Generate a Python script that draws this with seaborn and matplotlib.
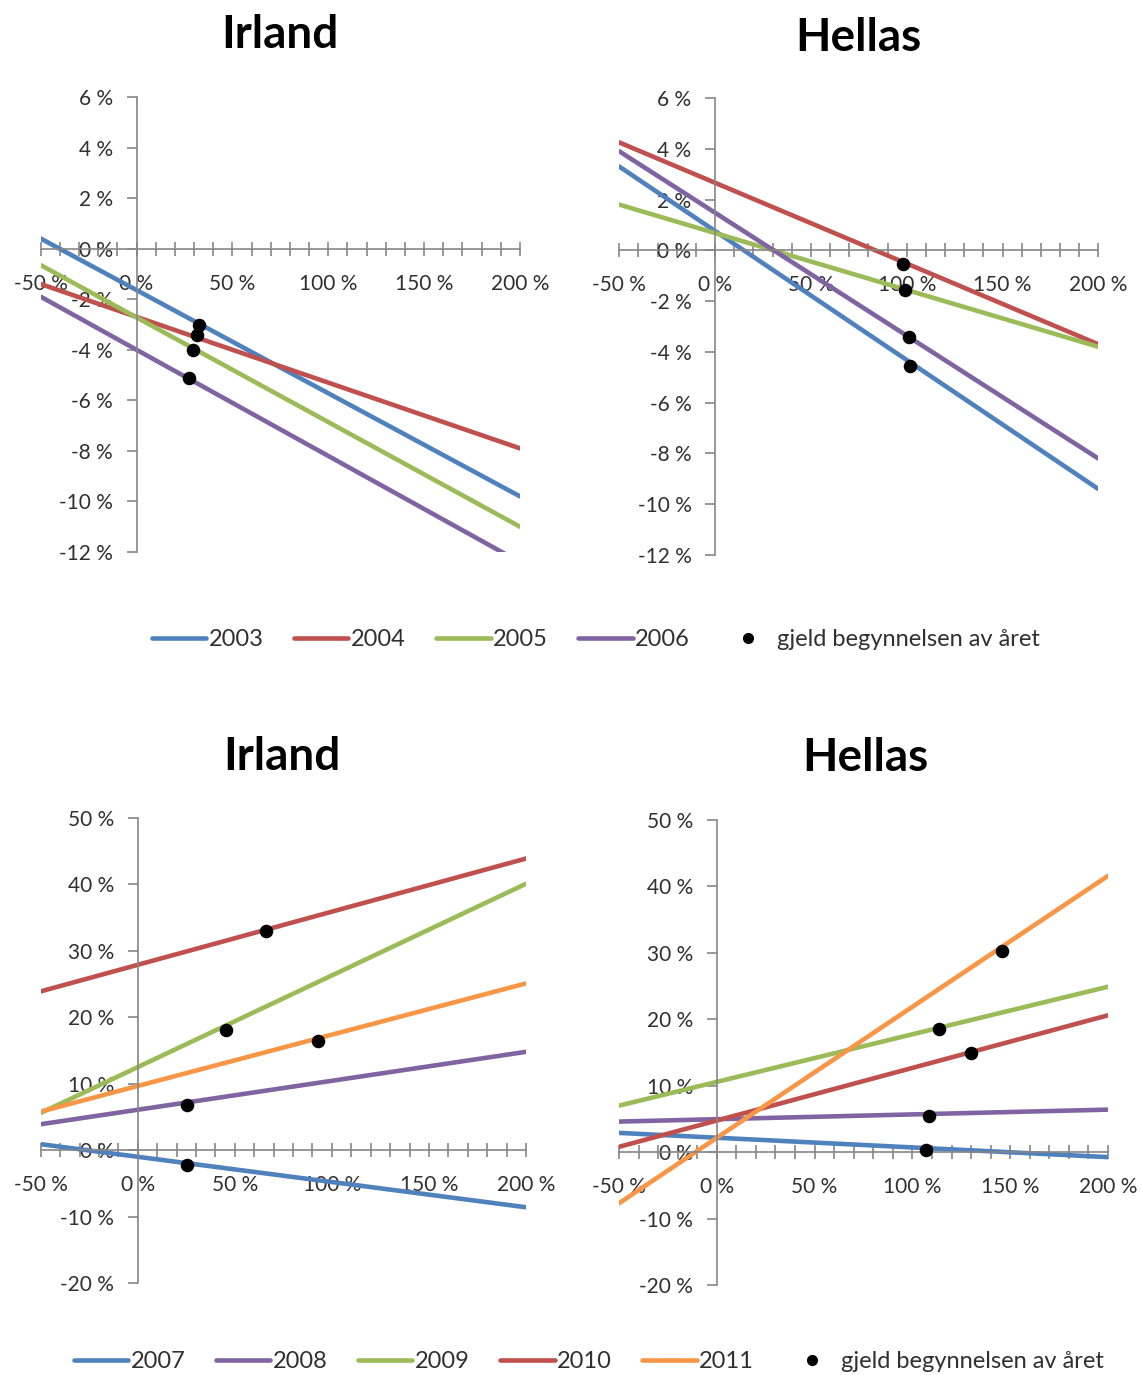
import numpy as np
import pandas as pd
import seaborn as sns
import matplotlib.pyplot as plt
from matplotlib.ticker import MultipleLocator, FuncFormatter
from matplotlib.lines import Line2D

sns.set_style("white")
plt.rcParams['font.family'] = ['Lato', 'DejaVu Sans']

# x positions of the line ends (gjeld, %)
x_ends = [-50, 200]

# top panels: 2003-2006
years_top = ["2003", "2004", "2005", "2006"]
irl_top_start = [0.4, -1.4, -0.65, -1.9]
irl_top_end = [-9.8, -7.9, -11.0, -12.4]
hel_top_start = [3.3, 4.25, 1.8, 3.9]
hel_top_end = [-9.4, -3.7, -3.8, -8.2]
irl_top_dot_x = [32.6, 31.3, 29.4, 27.3]
irl_top_dot_y = [-3.0, -3.4, -4.0, -5.1]
hel_top_dot_x = [98.1, 99.1, 101.0, 101.9]
hel_top_dot_y = [-0.55, -1.55, -3.4, -4.55]

# bottom panels: 2007-2011
years_bot = ["2007", "2008", "2009", "2010", "2011"]
irl_bot_start = [0.9, 3.9, 5.6, 23.9, 5.8]
irl_bot_end = [-8.6, 14.8, 40.1, 43.9, 25.1]
hel_bot_start = [2.9, 4.6, 7.0, 0.8, -7.7]
hel_bot_end = [-0.75, 6.4, 24.9, 20.6, 41.6]
irl_bot_dot_x = [25.5, 25.5, 45.2, 65.9, 92.8]
irl_bot_dot_y = [-2.3, 6.8, 18.1, 33.0, 16.5]
hel_bot_dot_x = [107.2, 108.5, 113.6, 130.2, 146.0]
hel_bot_dot_y = [0.35, 5.5, 18.5, 14.9, 30.3]

col = {"2003": "#4F81BD", "2004": "#C0504D", "2005": "#9BBB59", "2006": "#8064A2",
       "2007": "#4F81BD", "2008": "#8064A2", "2009": "#9BBB59", "2010": "#C0504D",
       "2011": "#F79646"}
dot_label = "gjeld begynnelsen av året"
axis_col = "#868686"
text_col = "#303030"

W, H = 1142, 1375


def lines_df(years, start, end):
    rows = []
    for yr, s, e in zip(years, start, end):
        rows.append({"år": yr, "gjeld": x_ends[0], "vekst": s})
        rows.append({"år": yr, "gjeld": x_ends[1], "vekst": e})
    return pd.DataFrame(rows)


def pct(v, pos):
    return "%d %%" % round(v)


def draw(ax, years, start, end, dx, dy, ylim, ystep):
    df = lines_df(years, start, end)
    sns.lineplot(data=df, x="gjeld", y="vekst", hue="år", palette=col,
                 linewidth=3.3, ax=ax, legend=False, sort=False)
    sns.scatterplot(x=dx, y=dy, color="black", s=95, ax=ax, zorder=5,
                    edgecolor="black", linewidth=0)
    ax.set_xlim(-50, 200)
    ax.set_ylim(*ylim)
    ax.set_xlabel("")
    ax.set_ylabel("")
    ax.spines["top"].set_visible(False)
    ax.spines["right"].set_visible(False)
    ax.spines["left"].set_position(("data", 0))
    ax.spines["bottom"].set_position(("data", 0))
    for s in ["left", "bottom"]:
        ax.spines[s].set_color(axis_col)
        ax.spines[s].set_linewidth(1.2)
    ax.xaxis.set_major_locator(MultipleLocator(50))
    ax.xaxis.set_minor_locator(MultipleLocator(10))
    ax.yaxis.set_major_locator(MultipleLocator(ystep))
    ax.xaxis.set_major_formatter(FuncFormatter(pct))
    ax.yaxis.set_major_formatter(FuncFormatter(pct))
    ax.tick_params(axis="x", which="both", bottom=True, direction="inout", length=10,
                   color=axis_col, width=1.2, labelsize=15, labelcolor=text_col, pad=13)
    ax.tick_params(axis="y", which="major", left=True, direction="out", length=7,
                   color=axis_col, width=1.2, labelsize=15, labelcolor=text_col, pad=10)
    ax.patch.set_alpha(0)


def box(x0, x1, y0, y1):
    return [x0 / W, 1 - y1 / H, (x1 - x0) / W, (y1 - y0) / H]


fig = plt.figure(figsize=(W / 100, H / 100), dpi=100)
ax1 = fig.add_axes(box(40.7, 520, 97, 552))
ax2 = fig.add_axes(box(619.3, 1098.3, 98, 555))
ax3 = fig.add_axes(box(40.7, 526, 818, 1283))
ax4 = fig.add_axes(box(619, 1108, 820, 1285))

draw(ax1, years_top, irl_top_start, irl_top_end, irl_top_dot_x, irl_top_dot_y, (-12, 6), 2)
draw(ax2, years_top, hel_top_start, hel_top_end, hel_top_dot_x, hel_top_dot_y, (-12, 6), 2)
draw(ax3, years_bot, irl_bot_start, irl_bot_end, irl_bot_dot_x, irl_bot_dot_y, (-20, 50), 10)
draw(ax4, years_bot, hel_bot_start, hel_bot_end, hel_bot_dot_x, hel_bot_dot_y, (-20, 50), 10)

for x, y, t in [(280, 35, "Irland"), (858, 38, "Hellas"), (282, 757, "Irland"), (865, 758, "Hellas")]:
    fig.text(x / W, 1 - y / H, t, ha="center", va="center",
             fontsize=33, fontweight="bold", color="black")


def legend_handles(years):
    h = [Line2D([0], [0], color=col[y], lw=3.3, label=y) for y in years]
    h.append(Line2D([0], [0], color="black", marker="o", lw=0, markersize=7, label=dot_label))
    return h


fig.legend(handles=legend_handles(years_top), loc="center", bbox_to_anchor=(596 / W, 1 - 640 / H),
           ncol=5, frameon=False, fontsize=17, handlelength=2.3, handletextpad=0.1,
           columnspacing=1.3, labelcolor=text_col)
fig.legend(handles=legend_handles(years_bot), loc="center", bbox_to_anchor=(589 / W, 1 - 1362 / H),
           ncol=6, frameon=False, fontsize=17, handlelength=2.3, handletextpad=0.1,
           columnspacing=1.3, labelcolor=text_col)

fig.savefig("out.png", dpi=100, facecolor="white")
